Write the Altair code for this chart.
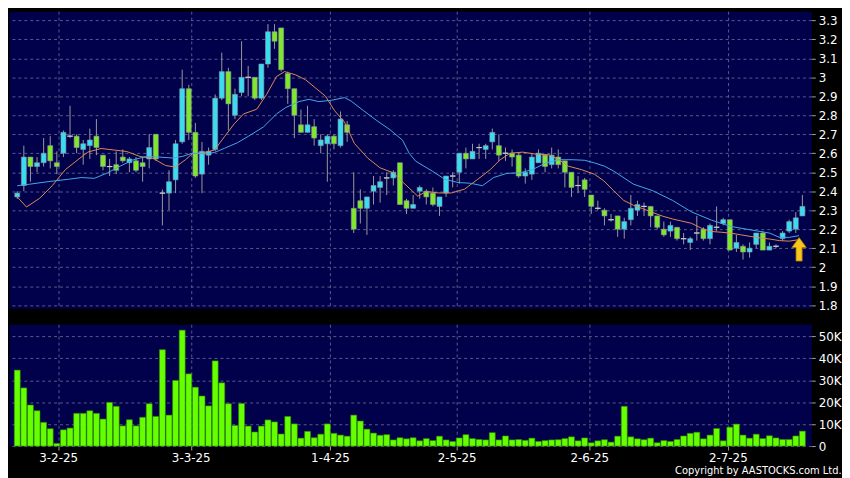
import altair as alt
import pandas as pd

# ---------------- data ----------------
opens = [2.37,2.43,2.58,2.53,2.55,2.64,2.55,2.60,2.69,2.69,
         2.62,2.64,2.69,2.59,2.53,2.54,2.58,2.55,2.56,2.55,
         2.57,2.70,2.39,2.39,2.46,2.66,2.94,2.71,2.49,2.59,
         2.62,2.89,3.03,2.80,2.92,3.00,3.00,2.89,3.07,3.24,
         3.26,3.02,2.94,2.75,2.71,2.74,2.64,2.65,2.69,2.64,
         2.75,2.31,2.35,2.31,2.40,2.42,2.47,2.47,2.55,2.35,
         2.31,2.40,2.40,2.39,2.32,2.39,2.48,2.50,2.60,2.57,
         2.63,2.62,2.66,2.64,2.60,2.60,2.59,2.48,2.49,2.55,
         2.59,2.54,2.58,2.56,2.50,2.43,2.46,2.38,2.31,2.30,
         2.25,2.27,2.20,2.25,2.30,2.32,2.32,2.27,2.20,2.19,
         2.21,2.15,2.13,2.18,2.20,2.15,2.21,2.23,2.25,2.10,
         2.11,2.08,2.12,2.18,2.09,2.11,2.15,2.19,2.20,2.27]
highs = [2.40,2.64,2.58,2.58,2.68,2.69,2.61,2.72,2.85,2.70,
         2.67,2.73,2.78,2.59,2.57,2.61,2.62,2.58,2.58,2.58,
         2.70,2.70,2.41,2.51,2.67,3.04,2.96,2.76,2.66,2.63,
         2.91,3.13,3.05,2.94,3.19,3.06,3.00,3.07,3.28,3.28,
         3.26,3.03,2.94,2.83,2.85,2.78,2.70,2.70,2.70,2.82,
         2.77,2.50,2.41,2.37,2.48,2.48,2.50,2.51,2.55,2.36,
         2.38,2.43,2.41,2.42,2.37,2.48,2.50,2.60,2.63,2.65,
         2.65,2.65,2.73,2.70,2.63,2.62,2.60,2.52,2.60,2.62,
         2.59,2.63,2.62,2.56,2.50,2.48,2.47,2.38,2.35,2.31,
         2.28,2.27,2.26,2.38,2.35,2.34,2.32,2.27,2.24,2.24,
         2.21,2.18,2.16,2.27,2.21,2.23,2.32,2.26,2.25,2.17,
         2.12,2.13,2.18,2.19,2.13,2.12,2.19,2.25,2.29,2.38]
lows = [2.36,2.40,2.45,2.50,2.53,2.52,2.49,2.58,2.68,2.60,
        2.54,2.57,2.59,2.51,2.48,2.49,2.55,2.50,2.50,2.45,
        2.52,2.56,2.22,2.30,2.39,2.65,2.67,2.47,2.39,2.54,
        2.61,2.88,2.72,2.78,2.90,2.90,2.88,2.88,3.05,3.15,
        3.03,2.86,2.68,2.71,2.71,2.64,2.60,2.45,2.62,2.63,
        2.66,2.18,2.23,2.17,2.33,2.34,2.38,2.43,2.33,2.28,
        2.31,2.36,2.33,2.32,2.27,2.37,2.42,2.44,2.52,2.57,
        2.57,2.57,2.62,2.56,2.56,2.53,2.47,2.44,2.46,2.55,
        2.50,2.52,2.52,2.42,2.37,2.39,2.37,2.28,2.30,2.22,
        2.24,2.16,2.15,2.22,2.27,2.27,2.21,2.20,2.16,2.16,
        2.14,2.12,2.09,2.14,2.14,2.12,2.19,2.22,2.09,2.08,
        2.04,2.05,2.10,2.09,2.09,2.10,2.14,2.18,2.18,2.27]
closes = [2.39,2.58,2.53,2.55,2.60,2.56,2.53,2.71,2.69,2.63,
          2.65,2.67,2.63,2.53,2.53,2.51,2.56,2.57,2.51,2.53,
          2.63,2.57,2.39,2.45,2.65,2.94,2.71,2.48,2.61,2.61,
          2.89,3.03,2.86,2.91,3.00,3.00,2.89,3.07,3.24,3.19,
          3.04,2.94,2.80,2.71,2.75,2.68,2.67,2.69,2.65,2.78,
          2.71,2.20,2.31,2.37,2.43,2.45,2.47,2.50,2.33,2.31,
          2.33,2.42,2.37,2.33,2.37,2.48,2.48,2.60,2.57,2.61,
          2.63,2.64,2.71,2.59,2.60,2.58,2.48,2.50,2.58,2.60,
          2.53,2.59,2.54,2.50,2.42,2.43,2.41,2.32,2.31,2.27,
          2.25,2.20,2.24,2.31,2.33,2.32,2.27,2.21,2.17,2.22,
          2.15,2.15,2.15,2.18,2.15,2.22,2.21,2.25,2.09,2.13,
          2.08,2.10,2.18,2.09,2.11,2.11,2.18,2.24,2.26,2.32]
volumes = [34600,26500,18700,16100,10800,7900,1200,7400,8200,14900,
           14900,16100,14900,12300,19900,18100,9200,12000,9200,13100,
           19300,13500,43900,14100,29900,52800,32900,26800,22800,18300,
           38800,28800,19300,9400,19400,9100,6400,9100,11900,11000,
           5500,13500,10100,3600,6700,3800,5400,10100,5800,5000,
           4500,14100,11400,7700,5900,4900,5200,2800,3800,3300,
           3800,2400,3400,2500,4500,2800,2100,3700,5200,3400,
           3000,2800,6100,2800,4600,2800,3000,2600,3600,2100,
           2500,2800,2900,3400,4200,2400,3700,1500,2400,2900,
           1800,4500,18100,4200,3300,2900,3600,1500,2500,2100,
           3000,4600,5800,6300,3300,5000,8000,2400,8600,10000,
           5000,3600,5400,3400,4700,3700,3000,3000,4600,6800]

ma_short_pos = [0,1.4,3.4,5.3,7.3,9.2,10.7,12.7,14.7,16.6,
                18.6,20.6,22.5,24.0,25.5,26.5,28.4,29.9,31.4,32.9,
                34.3,36.3,37.8,39.3,40.5,42.2,43.7,45.2,46.7,48.1,
                49.6,51.1,53.1,55.0,57.0,58.5,60.7,62.0,63.9,65.8,
                67.8,69.8,71.7,73.2,74.7,76.6,78.6,80.6,82.1,83.5,
                85.5,87.5,88.9,90.4,91.9,93.4,94.8,96.3,97.8,99.3,
                100.7,102.2,103.7,105.2,106.7,108.2,109.6,111.1,112.6,114.1,
                115.5,117.0,118.5]
ma_short_val = [2.37,2.317,2.363,2.429,2.514,2.566,2.606,2.625,2.617,2.609,
                2.583,2.573,2.535,2.528,2.566,2.597,2.604,2.617,2.687,2.755,
                2.807,2.832,2.910,3.004,3.030,3.013,2.987,2.944,2.901,2.824,
                2.764,2.652,2.575,2.523,2.497,2.446,2.374,2.398,2.391,2.391,
                2.411,2.463,2.514,2.566,2.600,2.606,2.595,2.592,2.566,2.532,
                2.514,2.489,2.455,2.403,2.352,2.326,2.308,2.288,2.269,2.254,
                2.243,2.231,2.205,2.188,2.184,2.179,2.171,2.162,2.154,2.148,
                2.140,2.137,2.145]
ma_long_pos = [0,1.9,4.8,7.8,9.7,11.7,13.7,15.6,17.6,19.6,
               21.5,23.5,25.0,26.5,28.4,29.9,31.4,33.4,35.3,37.3,
               39.3,40.7,42.7,44.2,45.7,47.6,49.6,50.6,52.5,54.5,
               56.5,58.4,59.4,60.4,62.9,64.8,66.8,68.7,70.5,72.2,
               74.2,76.2,78.1,80.1,82.1,84.1,86.0,87.5,89.0,90.4,
               93.4,96.3,99.3,102.2,105.2,108.2,111.1,114.1,115.5,117.0,
               118.5]
ma_long_val = [2.429,2.437,2.451,2.463,2.472,2.468,2.497,2.532,2.566,2.583,
               2.580,2.575,2.583,2.600,2.597,2.604,2.626,2.656,2.695,2.738,
               2.807,2.841,2.872,2.884,2.872,2.879,2.893,2.875,2.824,2.772,
               2.724,2.669,2.600,2.558,2.506,2.463,2.446,2.442,2.429,2.472,
               2.494,2.497,2.514,2.549,2.566,2.566,2.563,2.549,2.532,2.506,
               2.437,2.403,2.352,2.291,2.248,2.214,2.197,2.179,2.157,2.157,
               2.166]

tick_pos = [6.2, 26.3, 47.4, 66.6, 86.7, 107.7]
tick_labels = ["3-2-25", "3-3-25", "1-4-25", "2-5-25", "2-6-25", "2-7-25"]
price_ticks = [1.8, 1.9, 2.0, 2.1, 2.2, 2.3, 2.4, 2.5, 2.6, 2.7, 2.8, 2.9, 3.0, 3.1, 3.2, 3.3]
vol_ticks = [0, 10000, 20000, 30000, 40000, 50000]
signal_pos = [118.5]
signal_price = [2.094]

# ---------------- frames ----------------
n = len(closes)
candles = pd.DataFrame({
    "i": list(range(n)), "open": opens, "high": highs, "low": lows,
    "close": closes, "vol": volumes,
})
candles["kind"] = ["doji" if c == o else ("up" if c > o else "down")
                   for o, c in zip(opens, closes)]
ma_short = pd.DataFrame({"i": ma_short_pos, "v": ma_short_val})
ma_long = pd.DataFrame({"i": ma_long_pos, "v": ma_long_val})
signal = pd.DataFrame({"i": signal_pos, "p": signal_price})

# ---------------- styling ----------------
W, H1, H2 = 810, 300, 123
CYAN, GREEN, GRAY = "#3adcf0", "#80e82a", "#b4b4b4"
FONT = "DejaVu Sans"

label_expr = " : ".join(
    f"datum.value == {p} ? '{t}'" for p, t in zip(tick_pos, tick_labels)) + " : ''"

xs = alt.Scale(domain=[-0.5, 119.6], nice=False, zero=False)
ys = alt.Scale(domain=[1.783, 3.348], nice=False, zero=False)
vs = alt.Scale(domain=[0, 55500], nice=False, zero=True)

x_price_axis = alt.Axis(values=tick_pos, labels=False, ticks=False, domain=False,
                        grid=True, title=None)
y_price_axis = alt.Axis(values=price_ticks, orient="right", format=".1~f", grid=True,
                        title=None, tickSize=4, labelPadding=3)

X = alt.X("i:Q", scale=xs, axis=x_price_axis)
base = alt.Chart(candles)

wick = base.mark_rule(color="#9a9a9a", strokeWidth=1).encode(
    x=X, y=alt.Y("low:Q", scale=ys, axis=y_price_axis), y2="high:Q")
body = base.mark_bar(size=5, stroke="#8a93a6", strokeWidth=0.6).encode(
    x=X, y=alt.Y("open:Q", scale=ys, axis=y_price_axis), y2="close:Q",
    color=alt.Color("kind:N", scale=alt.Scale(domain=["up", "down", "doji"],
                                              range=[CYAN, GREEN, GRAY]), legend=None))
doji = base.transform_filter("datum.kind == 'doji'").transform_calculate(
    xa="datum.i - 0.42", xb="datum.i + 0.42").mark_rule(color="#c8c8c8", strokeWidth=1.2).encode(
    x=alt.X("xa:Q", scale=xs, axis=x_price_axis), x2="xb:Q",
    y=alt.Y("close:Q", scale=ys, axis=y_price_axis))
line_s = alt.Chart(ma_short).mark_line(color="#df8a55", strokeWidth=1).encode(
    x=alt.X("i:Q", scale=xs, axis=x_price_axis), y=alt.Y("v:Q", scale=ys, axis=y_price_axis))
line_l = alt.Chart(ma_long).mark_line(color="#45a8e6", strokeWidth=1).encode(
    x=alt.X("i:Q", scale=xs, axis=x_price_axis), y=alt.Y("v:Q", scale=ys, axis=y_price_axis))
arrow_path = "M0,-1 L0.62,-0.15 L0.26,-0.15 L0.26,1 L-0.26,1 L-0.26,-0.15 L-0.62,-0.15 Z"
arrow = alt.Chart(signal).mark_point(shape=arrow_path, filled=True, fill="#f7c51c",
                                     stroke="#b07800", strokeWidth=0.8, size=560, opacity=1).encode(
    x=alt.X("i:Q", scale=xs, axis=x_price_axis), y=alt.Y("p:Q", scale=ys, axis=y_price_axis))

price = alt.layer(wick, body, doji, line_s, line_l, arrow).properties(width=W, height=H1)

vol = base.mark_bar(size=6, color="#66ff00", stroke="#2e8a00", strokeWidth=0.6).encode(
    x=alt.X("i:Q", scale=xs, axis=alt.Axis(values=tick_pos, labelExpr=label_expr, grid=True,
                                          domain=False, ticks=True, tickSize=4, labelPadding=3,
                                          title=None, labelFlush=False)),
    y=alt.Y("vol:Q", scale=vs, axis=alt.Axis(values=vol_ticks, orient="right", grid=True,
                                            title=None, tickSize=4, labelPadding=3,
                                            labelExpr="datum.value == 0 ? '0' : (datum.value / 1000) + 'K'")),
).properties(width=W, height=H2)

chart = alt.vconcat(price, vol, spacing=11).resolve_scale(y="independent").properties(
    padding=0,
    title=alt.TitleParams("Copyright by AASTOCKS.com Ltd.", orient="bottom", anchor="end",
                          color="white", fontSize=10, fontWeight="normal", font=FONT, offset=2),
).configure(background="#000000").configure_view(
    fill="#00004b", stroke="transparent"
).configure_axis(
    gridColor="#5a5a8c", gridDash=[3, 3], gridWidth=1, labelColor="white", labelFont=FONT,
    labelFontSize=12, tickColor="#a0a0a0", domain=False
)

chart.save("out.html", embed_options={"renderer": "svg", "actions": False})
